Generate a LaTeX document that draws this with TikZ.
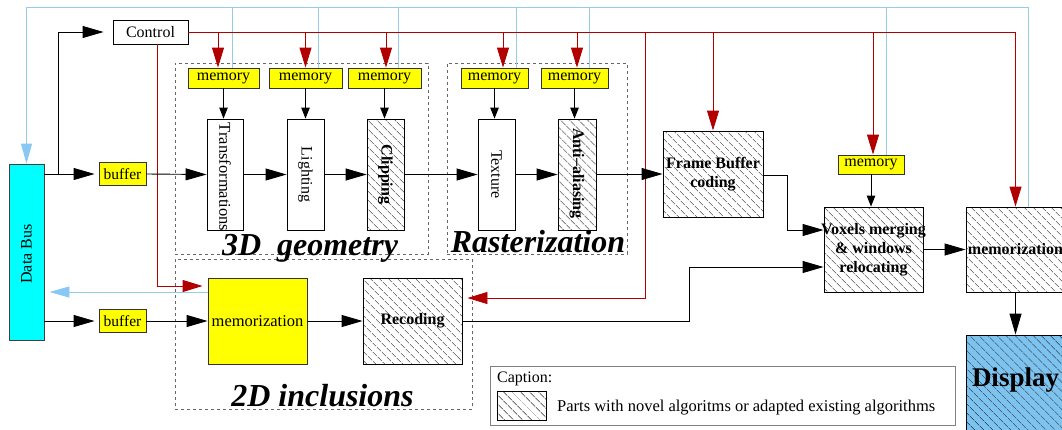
\documentclass[tikz,border=0pt]{standalone}
\usepackage{fontspec}
\setmainfont{Liberation Serif}
\usetikzlibrary{arrows.meta,patterns.meta,calc}

\definecolor{ctlred}{RGB}{178,0,0}
\definecolor{buslink}{RGB}{150,205,230}
\definecolor{busarrow}{RGB}{135,200,245}
\definecolor{busfill}{RGB}{0,255,255}
\definecolor{memyellow}{RGB}{255,255,0}
\definecolor{dispblue}{RGB}{125,195,240}
\definecolor{hatchgray}{RGB}{50,50,50}

\begin{document}
\begin{tikzpicture}[x=1pt,y=-1pt,
  txt/.style={font=\fontsize{16}{19}\selectfont},
  blk/.style={draw=black, line width=0.9pt, inner sep=0pt, align=center, txt},
  mem/.style={blk, fill=memyellow, draw=black!80},
  hatch/.style={pattern={Lines[angle=-45,distance=6.5pt,line width=0.75pt]}, pattern color=hatchgray},
  group/.style={draw=black!60, dashed, line width=0.7pt, inner sep=0pt},
  grouplabel/.style={font=\fontsize{32}{36}\selectfont\bfseries\itshape, inner sep=0pt, anchor=base},
  vtext/.style={txt, inner sep=0pt, rotate=-90},
  btext/.style={font=\fontsize{16}{19}\selectfont\bfseries, inner sep=0pt, align=center},
  flow/.style={line width=0.9pt, -{Triangle[length=21pt,width=12pt]}},
  feed/.style={line width=0.9pt, -{Triangle[length=11pt,width=8.5pt]}},
  ctl/.style={ctlred, line width=0.9pt},
  ctlarr/.style={ctl, -{Triangle[length=20pt,width=12pt]}},
  bus/.style={buslink, line width=0.9pt},
  busarr/.style={bus, -{Triangle[length=20pt,width=11pt,fill=busarrow,color=busarrow]}}
]
\useasboundingbox (0,0) rectangle (1062,429);

% dashed stage groups and their titles
\node[group, minimum width=253pt, minimum height=191pt] (g3d) at (301.5,158.5) {};
\node[group, minimum width=180pt, minimum height=191pt] (gras) at (537,158.5) {};
\node[group, minimum width=297pt, minimum height=150pt] (g2d) at (323.5,334) {};
\node[grouplabel] (l3d) at (310,255) {3D\ \ geometry};
\node[grouplabel] (lras) at (538,252) {Rasterization};
\node[grouplabel] (l2d) at (322.5,406) {2D inclusions};

% data bus and control
\node[blk, fill=busfill, draw=black!75, minimum width=35pt, minimum height=176pt] (bus) at (26.5,252) {};
\node[txt, inner sep=0pt, rotate=90] (busl) at (26.5,254) {Data Bus};
\node[blk, minimum width=75pt, minimum height=24pt] (control) at (150.5,32) {Control};
\node[mem, minimum width=47pt, minimum height=23pt, font=\fontsize{15.5}{18}\selectfont] (buf1) at (122.5,174) {buffer};
\node[mem, minimum width=47pt, minimum height=23pt, font=\fontsize{15.5}{18}\selectfont] (buf2) at (122.5,321) {buffer};

% memories
\node[mem, minimum width=71pt, minimum height=20pt] (mem1) at (223.5,78) {memory};
\node[mem, minimum width=73pt, minimum height=20pt] (mem2) at (305.5,78) {memory};
\node[mem, minimum width=73pt, minimum height=20pt] (mem3) at (384.5,78) {memory};
\node[mem, minimum width=67pt, minimum height=20pt] (mem4) at (494.5,78) {memory};
\node[mem, minimum width=67pt, minimum height=20pt] (mem5) at (574.5,78) {memory};
\node[mem, minimum width=66pt, minimum height=19pt] (mem6) at (871,164.5) {memory};

% pipeline stages
\node[blk, minimum width=36pt, minimum height=111pt] (tr) at (225,174.5) {};
\node[blk, minimum width=37pt, minimum height=111pt] (li) at (305.5,174.5) {};
\node[blk, hatch, minimum width=37pt, minimum height=111pt] (cl) at (385.5,174.5) {};
\node[blk, minimum width=37pt, minimum height=111pt] (te) at (496.5,174.5) {};
\node[blk, hatch, minimum width=38pt, minimum height=111pt] (aa) at (577,174.5) {};
\node[vtext, font=\fontsize{16.5}{19}\selectfont] (trl) at (225,177) {Transformations};
\node[vtext] (lil) at (li) {Lighting};
\node[vtext, font=\fontsize{16}{19}\selectfont\bfseries] (cll) at (cl) {Clipping};
\node[vtext] (tel) at (te) {Texture};
\node[vtext, font=\fontsize{16}{19}\selectfont\bfseries] (aal) at (577,173.5) {Anti--aliasing};

\node[blk, hatch, minimum width=100pt, minimum height=86pt] (fb) at (713,174) {};
\node[btext] (fbl) at (fb) {Frame Buffer\\coding};
\node[blk, hatch, minimum width=99pt, minimum height=85pt] (vox) at (873.5,249.5) {};
\node[btext] (voxl) at (vox) {Voxels merging\\\&\ windows\\relocating};
\node[blk, hatch, minimum width=99pt, minimum height=85pt] (memr) at (1015.5,249.5) {};
\node[btext] (memrl) at (memr) {memorization};
\node[blk, hatch, pattern color=black, preaction={fill=dispblue}, minimum width=99pt, minimum height=104pt] (disp) at (1015.5,387) {};
\node[btext, font=\fontsize{27}{30}\selectfont\bfseries] (displ) at (1015.5,380) {Display};

% 2D inclusions
\node[mem, minimum width=99pt, minimum height=86pt, font=\fontsize{16.5}{19}\selectfont] (memz) at (257.5,321) {memorization};
\node[blk, hatch, minimum width=99pt, minimum height=86pt] (rec) at (412.5,321) {};
\node[btext] (recl) at (rec) {Recoding};

% caption
\node[draw=black!50, line width=0.9pt, minimum width=465pt, minimum height=59pt, inner sep=0pt] (capbox) at (722.5,395.5) {};
\node[txt, inner sep=0pt, anchor=west] (captitle) at (497,379) {Caption:};
\node[blk, hatch, minimum width=49pt, minimum height=29pt] (capsample) at (521.5,405.5) {};
\node[txt, inner sep=0pt, anchor=west, font=\fontsize{16.5}{19}\selectfont] (captext) at (557,408) {Parts with novel algoritms or adapted existing algorithms};

% bus links (light blue)
\coordinate (bustop) at (26.5,7);
\draw[busarr] ([xshift=12.5pt]memr.north) |- (bustop) -- (bus.north);
\foreach \m/\dx in {mem1/8.5, mem2/12.5, mem3/13.5, mem4/21.5, mem5/14.5, mem6/15}
  \draw[bus] ([xshift=\dx pt]\m.north) -- ([xshift=\dx pt]\m.north |- bustop);
\coordinate (busret) at ($(memz.west)+(0,-29)$);
\draw[busarr, shorten >=5pt] (busret) -- (bus.east |- busret);

% control links (dark red)
\draw[ctlarr] (control.east) -| (memr.north);
\foreach \m/\dx in {mem1/-5.5, mem2/0, mem3/1.5, mem4/8.5, mem5/2.5, mem6/2, fb/0}
  \draw[ctlarr] ([xshift=\dx pt]\m.north |- control.east) -- ([xshift=\dx pt]\m.north);
\coordinate (ctlrec) at (645,32);
\draw[ctlarr, shorten >=5pt] (ctlrec) |- ($(rec.east)+(0,-23)$);
\draw[ctlarr, shorten >=5pt] ([xshift=6.5pt]control.south) |- ($(memz.west)+(0,-35)$);

% data flow (black)
\coordinate (split) at (58,174);
\coordinate (recbend) at (689,267);
\draw[flow, shorten >=4pt] (bus.east |- buf1) -- (buf1.west);
\draw[flow, shorten >=9pt] (split) |- (control.west);
\draw[flow] (buf1.east) -- (tr.west);
\draw[flow] (tr.east) -- (li.west);
\draw[flow] (li.east) -- (cl.west);
\draw[flow] (cl.east) -- (te.west);
\draw[flow] (te.east) -- (aa.west);
\draw[flow] (aa.east |- fb.west) -- (fb.west);
\draw[flow] ([yshift=-1pt]fb.east) -- ++(24,0) |- ($(vox.west)+(0,-19.5)$);
\draw[flow] (rec.east) -| (recbend) -- ($(vox.west)+(0,17.5)$);
\draw[flow] (vox.east) -- (memr.west);
\draw[flow] (memr.south) -- (disp.north);
\draw[flow, shorten >=4pt] (bus.east |- buf2) -- (buf2.west);
\draw[flow] (buf2.east) -- (memz.west);
\draw[flow] (memz.east) -- (rec.west);
\foreach \m/\s in {mem1/tr, mem2/li, mem3/cl, mem4/te, mem5/aa, mem6/vox}
  \draw[feed] (\m.south) -- (\m.south |- \s.north);
\end{tikzpicture}
\end{document}
